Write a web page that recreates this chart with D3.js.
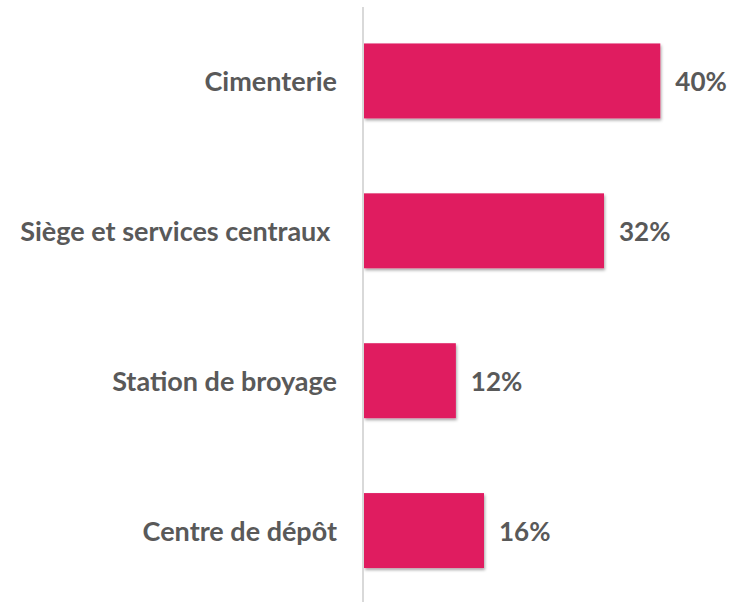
<!DOCTYPE html>
<html><head><meta charset="utf-8">
<script src="https://cdn.jsdelivr.net/npm/d3@7"></script>
<style>body{margin:0;background:#fff}svg{display:block}</style>
</head><body>
<script>
const categories = ["Cimenterie", "Siège et services centraux ", "Station de broyage", "Centre de dépôt"];
const values = [40, 32.4, 12.4, 16.2];
const valueLabels = ["40%", "32%", "12%", "16%"];

const W = 733, H = 602;
const svg = d3.select("body").append("svg").attr("width", W).attr("height", H);
const defs = svg.append("defs");
const f = defs.append("filter").attr("id","sh").attr("x","-10%").attr("y","-10%").attr("width","130%").attr("height","140%");
f.append("feDropShadow").attr("dx",1).attr("dy",2).attr("stdDeviation",1.5).attr("flood-color","#000").attr("flood-opacity",0.35);

const data = categories.map((c,i)=>({c, v: values[i], l: valueLabels[i]}));
const x = d3.scaleLinear().domain([0, 40]).range([364, 660.3]);
const y = d3.scaleBand().domain(categories).range([6, 605.5]).paddingInner(0.5).paddingOuter(0.25);

svg.append("g").selectAll("rect").data(data).join("rect")
  .attr("x", x(0)).attr("y", d=>y(d.c)).attr("width", d=>x(d.v)-x(0)).attr("height", y.bandwidth())
  .attr("fill", "#E01B60").attr("filter","url(#sh)");

svg.append("line").attr("x1",363).attr("x2",363).attr("y1",7).attr("y2",H).attr("stroke","#d9d9d9").attr("stroke-width",2);

const font = "Lato, sans-serif";
svg.append("g").selectAll("text").data(data).join("text")
  .attr("x", 337).attr("y", d=>y(d.c)+y.bandwidth()/2).attr("dy","0.39em")
  .attr("text-anchor","end").style("white-space","pre")
  .attr("font-family",font).attr("font-weight",700).attr("font-size",27).attr("fill","#595959")
  .text(d=>d.c);

svg.append("g").selectAll("text").data(data).join("text")
  .attr("x", d=>x(d.v)+15).attr("y", d=>y(d.c)+y.bandwidth()/2).attr("dy","0.39em")
  .attr("font-family",font).attr("font-weight",700).attr("font-size",26).attr("fill","#595959")
  .text(d=>d.l);
</script>
</body></html>
